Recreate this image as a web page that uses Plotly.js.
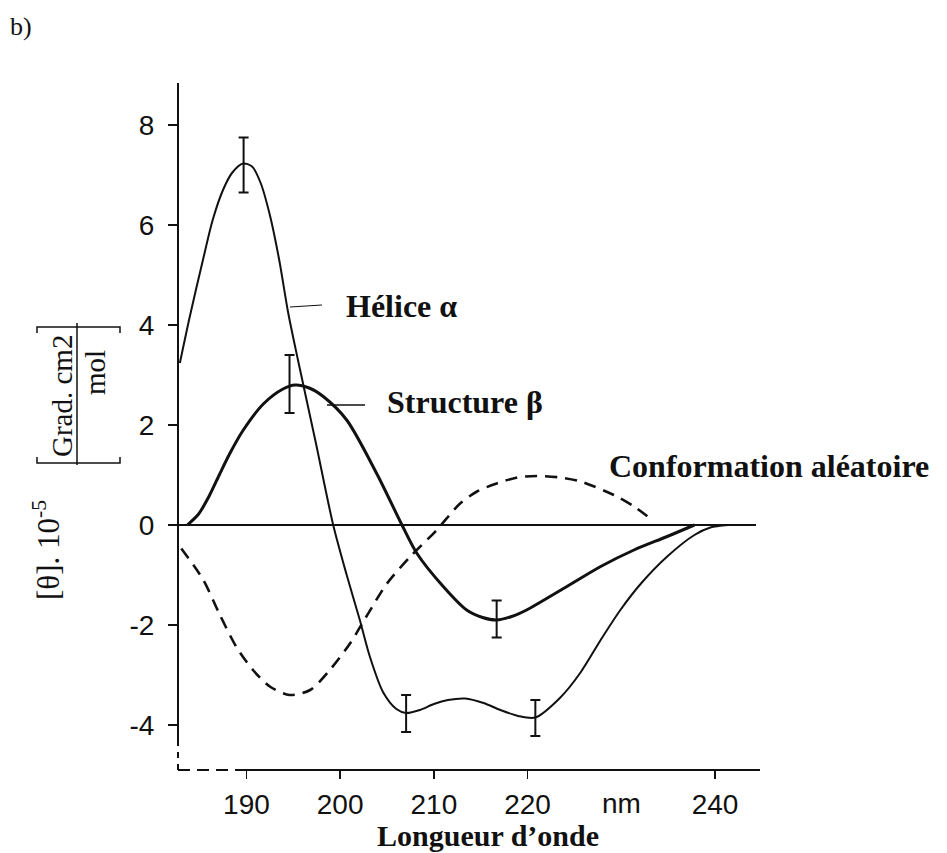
<!DOCTYPE html>
<html>
<head>
<meta charset="utf-8">
<script src="https://cdn.plot.ly/plotly-3.0.1.min.js"></script>
<style>html,body{margin:0;padding:0;background:#fff;}#chart{width:947px;height:853px;}</style>
</head>
<body>
<div id="chart"></div>
<script>
// ---- data ----
const xHelix = [182.9, 183.95, 185.36, 186.4, 187.5, 188.5, 189.64, 190.6, 191.5, 192.5, 193.5, 194.45, 195.5, 197.4, 199.26, 200.7, 202.1, 203.2, 204.6, 206.0, 207.04, 208.5, 210.0, 211.5, 213.35, 215.3, 217.1, 219.0, 220.83, 223.5, 225.65, 227.8, 229.9, 232.1, 234.9, 237.8, 239.5, 241.4];
const yHelix = [3.24, 4.16, 5.3, 6.1, 6.7, 7.05, 7.23, 7.17, 6.85, 6.2, 5.3, 4.25, 3.3, 1.65, 0.0, -1.0, -1.9, -2.65, -3.35, -3.68, -3.76, -3.7, -3.58, -3.5, -3.47, -3.56, -3.7, -3.82, -3.85, -3.45, -2.95, -2.3, -1.7, -1.17, -0.63, -0.2, -0.05, 0.0];

const xBeta = [183.7, 184.9, 186.0, 187.15, 188.2, 189.6, 191.8, 193.9, 195.2, 196.7, 198.2, 200.7, 203.9, 206.6, 208.2, 211.0, 213.5, 215.2, 216.7, 218.3, 219.9, 224.2, 227.8, 231.35, 234.9, 237.8];
const yBeta = [0.0, 0.22, 0.57, 1.02, 1.42, 1.88, 2.42, 2.72, 2.8, 2.74, 2.57, 2.1, 1.03, 0.0, -0.57, -1.23, -1.7, -1.85, -1.9, -1.83, -1.7, -1.23, -0.83, -0.5, -0.23, 0.0];

const xCoil = [183.05, 185.4, 187.1, 188.9, 190.7, 192.5, 194.6, 196.8, 198.9, 201.05, 202.8, 205.0, 207.5, 210.3, 212.8, 214.6, 216.7, 218.9, 221.0, 223.5, 225.65, 229.2, 231.35, 233.1];
const yCoil = [-0.47, -1.1, -1.77, -2.43, -2.9, -3.23, -3.4, -3.3, -2.9, -2.37, -1.83, -1.17, -0.63, -0.1, 0.43, 0.67, 0.83, 0.95, 0.98, 0.95, 0.87, 0.6, 0.37, 0.13];

// error bars
const xHelixErr = [189.7, 207.04, 220.83];
const yHelixErr = [7.2, -3.77, -3.86];
const eHelixErr = [0.55, 0.37, 0.36];
const xBetaErr = [194.6, 216.7];
const yBetaErr = [2.82, -1.88];
const eBetaErr = [0.58, 0.37];

// axes
const xTickVals = [190, 200, 210, 220, 240];
const xTickText = ['190', '200', '210', '220', '240'];
const yTickVals = [8, 6, 4, 2, 0, -2, -4];
const yTickText = ['8', '6', '4', '2', '0', '-2', '-4'];
const xRange = [182.7, 244.8];
const yRange = [-4.9, 8.84];

// labels
const labelHelix = 'Hélice α';
const labelBeta = 'Structure β';
const labelCoil = 'Conformation aléatoire';
const xTitle = 'Longueur d’onde';
const yTitleMain = '[θ]. 10<sup>-5</sup>';
const yTitleNum = 'Grad. cm2';
const yTitleDen = 'mol';
const unitLabel = 'nm';
const panelLabel = 'b)';

// ---- layout helpers (pixel -> paper) ----
const W = 947, H = 853;
const M = {l: 178, r: 187, t: 83, b: 83};
const PW = W - M.l - M.r, PH = H - M.t - M.b;
const px = v => (v - M.l) / PW;
const py = v => (H - M.b - v) / PH;

const sans = 'Liberation Sans, Arial, sans-serif';
const serif = 'Liberation Serif, Times New Roman, serif';
const ink = '#111';

const traces = [
  {x: xCoil, y: yCoil, mode: 'lines', line: {color: ink, width: 2.6, dash: '12px,8px', shape: 'spline', smoothing: 0.8}, hoverinfo: 'skip'},
  {x: xBeta, y: yBeta, mode: 'lines', line: {color: ink, width: 3, shape: 'spline', smoothing: 0.8}, hoverinfo: 'skip'},
  {x: xHelix, y: yHelix, mode: 'lines', line: {color: ink, width: 2, shape: 'spline', smoothing: 0.8}, hoverinfo: 'skip'},
  {x: xHelixErr, y: yHelixErr, mode: 'markers', marker: {size: 1, color: 'rgba(0,0,0,0)'},
   error_y: {type: 'data', array: eHelixErr, visible: true, color: ink, thickness: 2, width: 5}, hoverinfo: 'skip'},
  {x: xBetaErr, y: yBetaErr, mode: 'markers', marker: {size: 1, color: 'rgba(0,0,0,0)'},
   error_y: {type: 'data', array: eBetaErr, visible: true, color: ink, thickness: 2, width: 5}, hoverinfo: 'skip'}
];

const lineStyle = {color: ink, width: 2};
const thin = {color: ink, width: 1.5};
const shapes = [
  // y axis: solid upper part, dashed lower part
  {type: 'line', xref: 'paper', yref: 'y', x0: 0, x1: 0, y0: -4.36, y1: yRange[1], line: lineStyle},
  {type: 'line', xref: 'paper', yref: 'paper', x0: 0, x1: 0, y0: 0, y1: py(743), line: {color: ink, width: 2, dash: '6px,6px'}},
  // x axis: dashed left part, solid remainder
  {type: 'line', xref: 'paper', yref: 'paper', x0: 0, x1: px(237), y0: 0, y1: 0, line: {color: ink, width: 2, dash: '12px,7px'}},
  {type: 'line', xref: 'paper', yref: 'paper', x0: px(237), x1: 1, y0: 0, y1: 0, line: lineStyle},
  // zero line
  {type: 'line', xref: 'paper', yref: 'y', x0: px(172), x1: px(756), y0: 0, y1: 0, line: lineStyle},
  // leader lines
  {type: 'line', xref: 'paper', yref: 'paper', x0: px(290), x1: px(322), y0: py(307), y1: py(305), line: {color: ink, width: 1.2}},
  {type: 'line', xref: 'paper', yref: 'paper', x0: px(327), x1: px(365), y0: py(405), y1: py(405), line: {color: ink, width: 1.6}},
  // y-title fraction bar and brackets
  {type: 'line', xref: 'paper', yref: 'paper', x0: px(77), x1: px(77), y0: py(323), y1: py(465), line: thin},
  {type: 'path', xref: 'paper', yref: 'paper', line: thin,
   path: `M ${px(37)} ${py(333)} L ${px(37)} ${py(327)} L ${px(120)} ${py(327)} L ${px(120)} ${py(333)}`},
  {type: 'path', xref: 'paper', yref: 'paper', line: thin,
   path: `M ${px(37)} ${py(457)} L ${px(37)} ${py(463)} L ${px(120)} ${py(463)} L ${px(120)} ${py(457)}`}
];

const ann = (text, x, y, font, extra) => Object.assign({text: text, xref: 'paper', yref: 'paper', x: px(x), y: py(y),
  xanchor: 'center', yanchor: 'middle', showarrow: false, font: font}, extra || {});

const boldSerif = {family: serif, size: 32, color: ink};
const annotations = [
  ann('<b>' + labelHelix + '</b>', 401, 306, boldSerif),
  ann('<b>' + labelBeta + '</b>', 465, 402, boldSerif),
  ann('<b>' + labelCoil + '</b>', 769, 466, boldSerif),
  ann('<b>' + xTitle + '</b>', 488, 835, {family: serif, size: 30, color: ink}),
  ann(panelLabel, 21, 27, {family: serif, size: 26, color: ink}),
  ann(yTitleMain, 46, 550, {family: serif, size: 31, color: ink}, {textangle: -90}),
  ann(yTitleNum, 62, 396, {family: serif, size: 29, color: ink}, {textangle: -90}),
  ann(yTitleDen, 95, 373, {family: serif, size: 29, color: ink}, {textangle: -90}),
  {text: unitLabel, xref: 'x', yref: 'paper', x: 230, y: py(803), xanchor: 'center', yanchor: 'middle', showarrow: false,
   font: {family: sans, size: 28, color: ink}}
];

const layout = {
  width: W, height: H,
  margin: M,
  paper_bgcolor: '#fff', plot_bgcolor: '#fff',
  showlegend: false,
  xaxis: {range: xRange, showgrid: false, zeroline: false, showline: false,
    tickmode: 'array', tickvals: xTickVals, ticktext: xTickText,
    ticks: 'outside', ticklen: 8, tickwidth: 1.5, tickcolor: ink,
    tickfont: {family: sans, size: 28, color: ink}, ticklabelstandoff: 1, fixedrange: true},
  yaxis: {range: yRange, showgrid: false, zeroline: false, showline: false,
    tickmode: 'array', tickvals: yTickVals, ticktext: yTickText,
    ticks: 'outside', ticklen: 9, tickwidth: 1.5, tickcolor: ink,
    tickfont: {family: sans, size: 28, color: ink}, ticklabelstandoff: 8, fixedrange: true},
  shapes: shapes,
  annotations: annotations
};

Plotly.newPlot('chart', traces, layout, {displayModeBar: false, staticPlot: true});
</script>
</body>
</html>
